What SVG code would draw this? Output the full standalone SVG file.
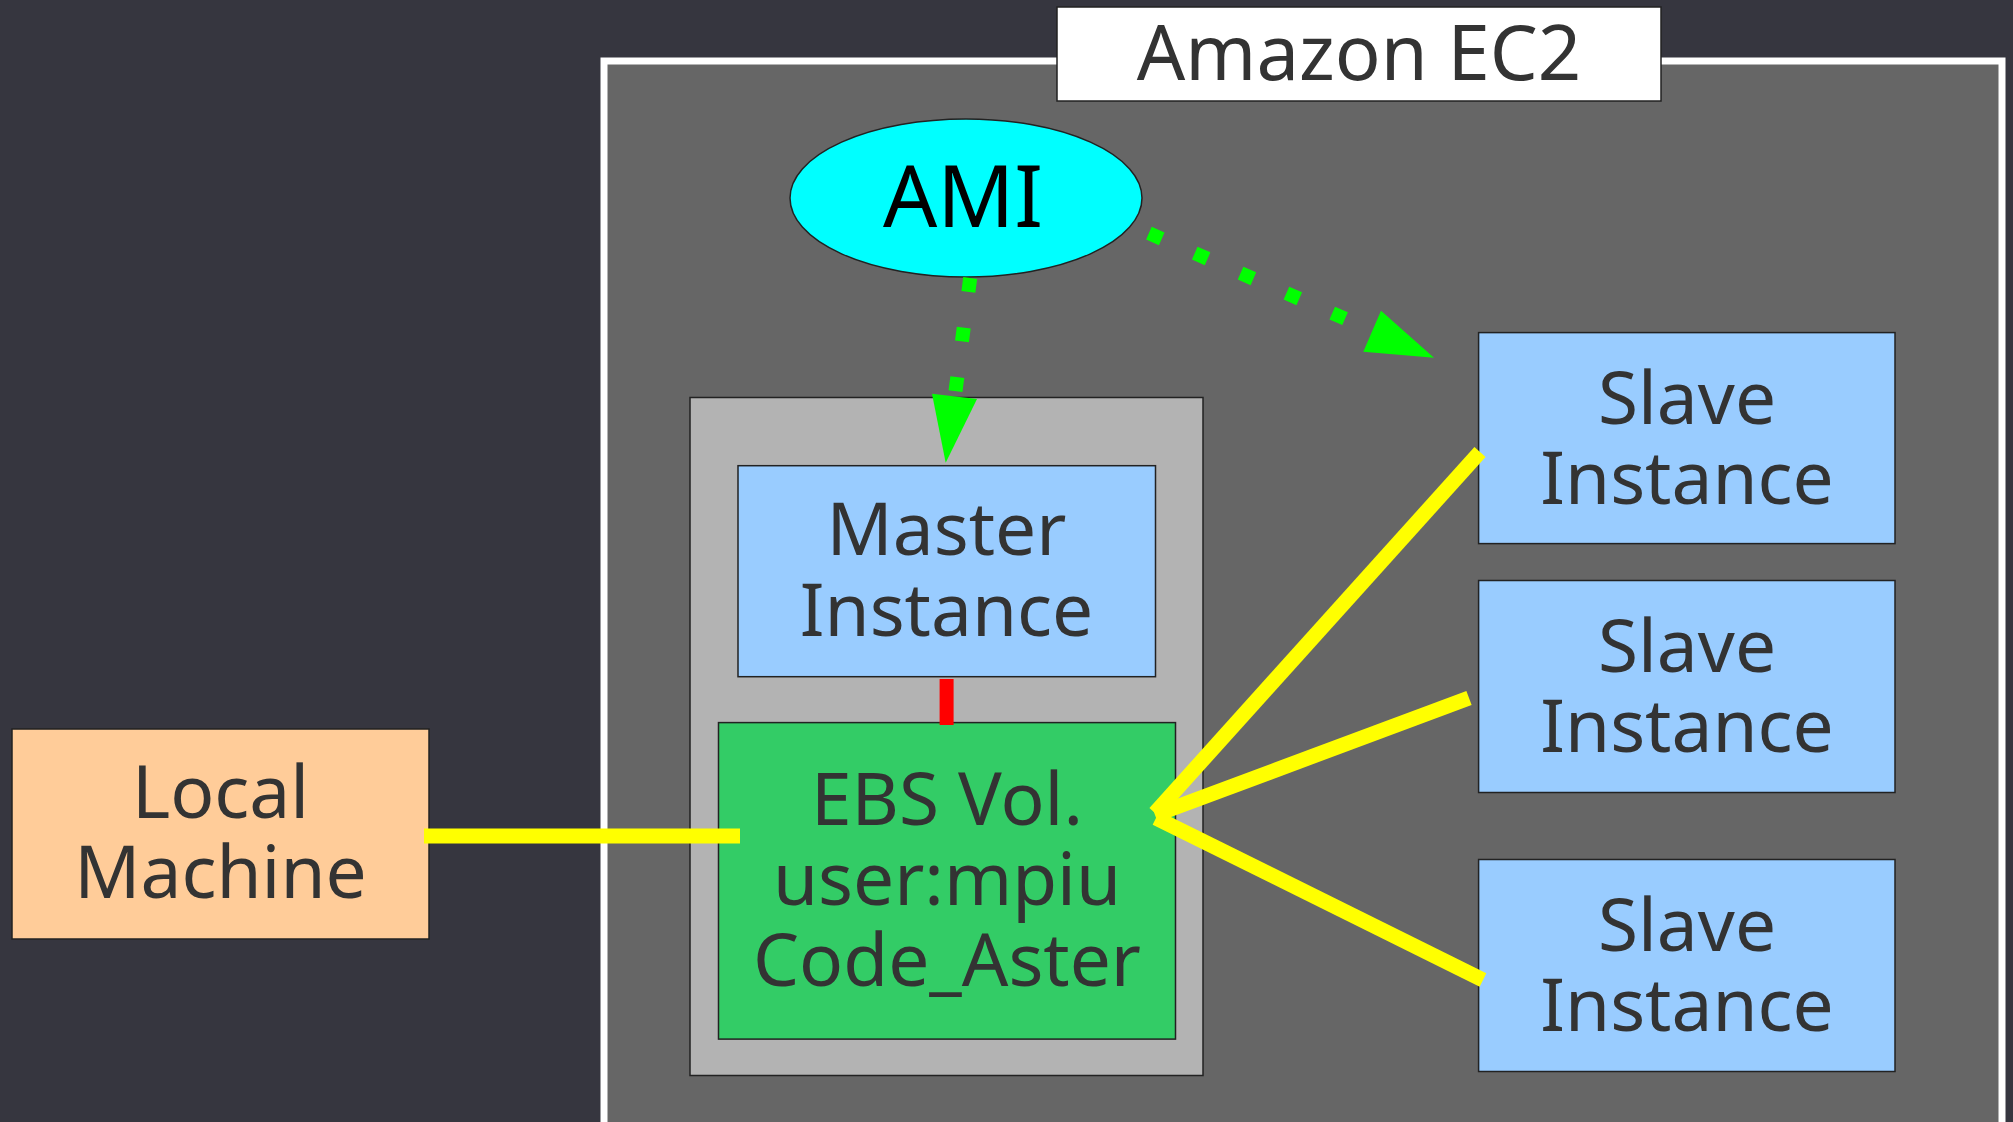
<svg xmlns="http://www.w3.org/2000/svg" width="2013" height="1122" viewBox="0 0 2013 1122">
<style>
.t{font-family:"Noto Sans","Open Sans","Liberation Sans",sans-serif;font-size:73px;fill:#333333;text-anchor:middle}
.box{stroke:#222222;stroke-width:1.5}
.y{stroke:#ffff00;stroke-width:15;stroke-linecap:butt;fill:none}
.g{stroke:#00ff00;stroke-width:14;stroke-dasharray:14 36;fill:none}
.ah{fill:#00ff00}
</style>
<rect x="0" y="0" width="2013" height="1122" fill="#36363f"/>
<g id="ec2-frame">
<rect x="604" y="61" width="1398" height="1100" fill="#666666" stroke="#ffffff" stroke-width="7"/>
</g>
<g id="title">
<rect x="1057" y="7" width="604" height="94" fill="#ffffff" stroke="#222222" stroke-width="1.5"/>
<text class="t" x="1359" y="80" style="font-size:76px">Amazon EC2</text>
</g>
<g id="master-group">
<rect x="690" y="397.5" width="513" height="678" fill="#b3b3b3" stroke="#222222" stroke-width="1.5"/>
</g>
<g id="ami">
<ellipse cx="966" cy="198" rx="176" ry="79" fill="#00ffff" stroke="#222222" stroke-width="1.5"/>
<text x="963" y="227" style="font-family:'Noto Sans','Open Sans','Liberation Sans',sans-serif;font-size:85px;fill:#000000;text-anchor:middle">AMI</text>
</g>
<g id="master">
<rect class="box" x="738" y="465.7" width="417.5" height="211" fill="#99ccff"/>
<text class="t" x="946.5" y="555">Master</text>
<text class="t" x="946.5" y="635.6">Instance</text>
</g>
<g id="ebs">
<rect class="box" x="718.5" y="722.6" width="457" height="316.5" fill="#33cc66"/>
<text class="t" x="947" y="825">EBS Vol.</text>
<text class="t" x="947" y="905">user:mpiu</text>
<text class="t" x="947" y="986">Code_Aster</text>
</g>
<g id="local">
<rect class="box" x="12" y="729" width="417" height="210" fill="#ffcc99"/>
<text class="t" x="220.5" y="818">Local</text>
<text class="t" x="220.5" y="898">Machine</text>
</g>
<g id="slave1">
<rect class="box" x="1478.6" y="332.6" width="416.4" height="211" fill="#99ccff"/>
<text class="t" x="1687" y="424">Slave</text>
<text class="t" x="1687" y="504">Instance</text>
</g>
<g id="slave2">
<rect class="box" x="1478.6" y="580.5" width="416.4" height="212" fill="#99ccff"/>
<text class="t" x="1687" y="671.5">Slave</text>
<text class="t" x="1687" y="751.5">Instance</text>
</g>
<g id="slave3">
<rect class="box" x="1478.6" y="859.5" width="416.4" height="212" fill="#99ccff"/>
<text class="t" x="1687" y="950.5">Slave</text>
<text class="t" x="1687" y="1030.5">Instance</text>
</g>
<g id="connectors">
<line x1="946.6" y1="679" x2="946.6" y2="725" stroke="#ff0000" stroke-width="14"/>
<line class="y" x1="424" y1="836" x2="740" y2="836"/>
<line class="y" x1="1480" y1="452" x2="1155" y2="813"/>
<line class="y" x1="1469" y1="698" x2="1155" y2="815"/>
<line class="y" x1="1483" y1="980" x2="1156" y2="818"/>
<line class="g" x1="970.2" y1="278" x2="955" y2="395"/>
<polygon class="ah" points="932,393.7 977,399 945.7,462.7"/>
<line class="g" x1="1148.9" y1="233.2" x2="1371" y2="330"/>
<polygon class="ah" points="1381,310.7 1363.3,351.7 1434,357.7"/>
</g>
</svg>
